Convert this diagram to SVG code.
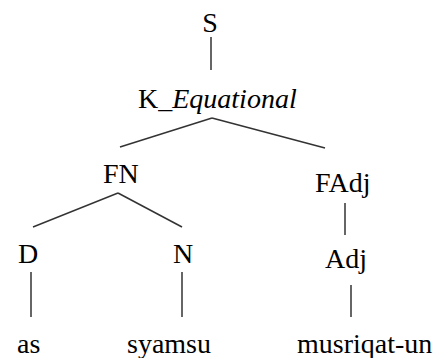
<svg xmlns="http://www.w3.org/2000/svg" width="436" height="358" viewBox="0 0 436 358" font-family="'Liberation Serif', 'DejaVu Serif', serif" font-size="28">
<style>
line{stroke:#333;stroke-width:1.5}
</style>
<rect width="436" height="358" fill="#fff"/>
<g id="connectors">
<line x1="211" y1="37" x2="211" y2="70"/>
<line x1="212" y1="118" x2="120" y2="147"/>
<line x1="212" y1="118" x2="325" y2="148"/>
<line x1="118" y1="193" x2="33" y2="227"/>
<line x1="118" y1="193" x2="182" y2="227"/>
<line x1="345" y1="203" x2="345" y2="235"/>
<line x1="31" y1="272" x2="31" y2="317"/>
<line x1="182" y1="272" x2="182" y2="317"/>
<line x1="351" y1="285" x2="351" y2="317"/>
</g>
<g id="S"><text x="210" y="32" text-anchor="middle">S</text></g>
<g id="K"><text x="138" y="108">K_<tspan font-style="italic">Equational</tspan></text></g>
<g id="FN"><text x="103" y="183">FN</text></g>
<g id="FAdj"><text x="315" y="192">FAdj</text></g>
<g id="D"><text x="18" y="263">D</text></g>
<g id="N"><text x="173" y="263">N</text></g>
<g id="Adj"><text x="325" y="268">Adj</text></g>
<g id="as"><text x="17" y="353">as</text></g>
<g id="syamsu"><text x="127" y="353">syamsu</text></g>
<g id="musriqat"><text x="297" y="353">musriqat-un</text></g>
</svg>
